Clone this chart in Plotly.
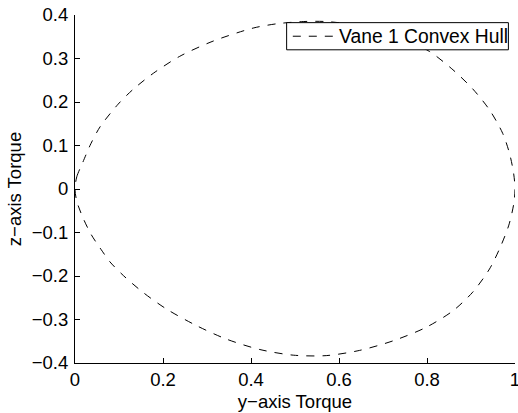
import plotly.graph_objects as go

# Convex hull of the vane 1 torque envelope (y-axis torque vs z-axis torque)
upper_y_torque = [0.0, 0.004, 0.018, 0.036, 0.057, 0.098, 0.132, 0.178, 0.238, 0.314,
                  0.405, 0.460, 0.520, 0.570, 0.630, 0.700, 0.760, 0.806, 0.859, 0.904,
                  0.942, 0.972, 0.988, 0.997, 1.0]
upper_z_torque = [0.0, 0.028, 0.062, 0.104, 0.143, 0.195, 0.229, 0.266, 0.305, 0.340,
                  0.370, 0.380, 0.385, 0.385, 0.378, 0.360, 0.338, 0.316, 0.274, 0.230,
                  0.182, 0.128, 0.080, 0.035, 0.0]
lower_y_torque = [1.0, 0.997, 0.986, 0.966, 0.942, 0.904, 0.859, 0.798, 0.723, 0.647,
                  0.571, 0.496, 0.420, 0.344, 0.276, 0.208, 0.155, 0.110, 0.079, 0.062,
                  0.037, 0.018, 0.004, 0.0]
lower_z_torque = [0.0, -0.035, -0.083, -0.135, -0.184, -0.237, -0.280, -0.318, -0.349, -0.371,
                  -0.383, -0.382, -0.369, -0.345, -0.314, -0.276, -0.238, -0.199, -0.167, -0.143,
                  -0.105, -0.066, -0.028, 0.0]

x_ticks = [0, 0.2, 0.4, 0.6, 0.8, 1]
y_ticks = [-0.4, -0.3, -0.2, -0.1, 0, 0.1, 0.2, 0.3, 0.4]
series_name = "Vane 1 Convex Hull"

hull_x = upper_y_torque + lower_y_torque[1:]
hull_y = upper_z_torque + lower_z_torque[1:]

font_family = "Liberation Sans, Arial, Helvetica, sans-serif"
label_size = 18.5
dash_style = "8px,8px"

fig = go.Figure()
fig.add_trace(go.Scatter(
    x=hull_x, y=hull_y, mode="lines", name=series_name, showlegend=False,
    line=dict(color="black", width=1, dash=dash_style, shape="spline", smoothing=0.8),
))

axis_common = dict(
    showgrid=False, zeroline=False, showline=True, linecolor="black", linewidth=1,
    ticks="inside", ticklen=5, tickwidth=1, tickcolor="black",
    tickfont=dict(family=font_family, size=label_size, color="black"),
    ticklabeloverflow="allow", automargin=False,
    mirror=False,
)

fig.update_xaxes(
    range=[0, 1], tickvals=x_ticks, ticktext=[f"{v:g}" for v in x_ticks],
    title=dict(text="y\u2212axis Torque", font=dict(family=font_family, size=label_size, color="black"), standoff=5),
    **axis_common,
)
fig.update_yaxes(
    range=[-0.4, 0.4], tickvals=y_ticks,
    ticktext=[f"{v:g}".replace("-", "\u2212") for v in y_ticks],
    title=dict(text="z\u2212axis Torque", font=dict(family=font_family, size=label_size, color="black"), standoff=5),
    ticklabelstandoff=2,
    **axis_common,
)

# Compact boxed legend in the upper right of the axes (paper coordinates)
box_x0, box_x1, box_y0, box_y1 = 0.481, 0.985, 0.900, 0.978
row_y = (box_y0 + box_y1) / 2
fig.add_shape(type="rect", xref="paper", yref="paper",
              x0=box_x0, x1=box_x1, y0=box_y0, y1=box_y1,
              fillcolor="white", line=dict(color="black", width=1), layer="above")
fig.add_shape(type="line", xref="paper", yref="paper",
              x0=box_x0 + 0.014, x1=box_x0 + 0.109, y0=row_y, y1=row_y,
              line=dict(color="black", width=1, dash=dash_style), layer="above")
fig.add_annotation(xref="paper", yref="paper", x=box_x0 + 0.114, y=row_y,
                   xanchor="left", yanchor="middle", showarrow=False,
                   text=series_name,
                   font=dict(family=font_family, size=19.3, color="black"))

fig.update_layout(
    width=518, height=413,
    margin=dict(l=75, r=3, t=15, b=50),
    paper_bgcolor="white", plot_bgcolor="white",
    showlegend=False,
)

fig.write_html("out.html")
